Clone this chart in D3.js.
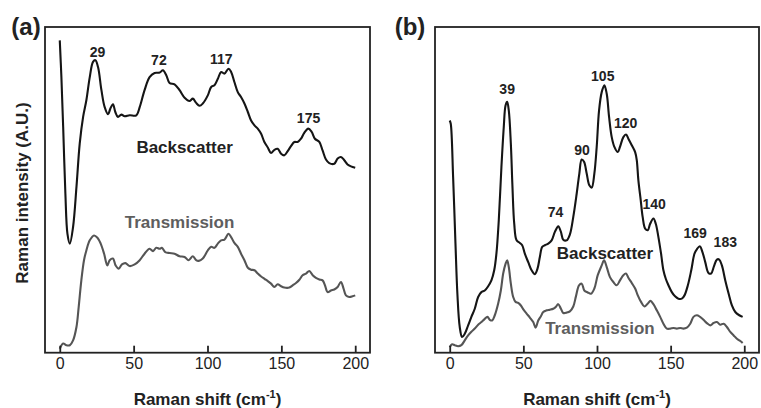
<!DOCTYPE html>
<html>
<head>
<meta charset="utf-8">
<script src="https://cdn.jsdelivr.net/npm/d3@7"></script>
<style>
  html, body { margin: 0; padding: 0; background: #fff; }
  svg { display: block; font-family: "Liberation Sans", Arial, sans-serif; }
</style>
</head>
<body>
<svg id="chart" width="761" height="408"></svg>
<script>
// ---------------- DATA (Raman shift in cm^-1, intensity in arbitrary units 0-100) ----------------
const xTicks = [0, 50, 100, 150, 200];

// Panel (a)
const backscatterA = [
  [0,95.9],[1.1,84.6],[2.3,69.3],[3.8,48.8],[5.2,36.5],[6.8,33.5],[9.0,38.6],[11.3,50.9],[13.5,64.2],
  [15.8,72.4],[18.0,77.5],[20.3,84.6],[22.5,89.3],[24.1,89.8],[25.9,87.7],[28.2,80.6],[30.4,75.4],
  [32.7,73.2],[34.2,74.9],[36.0,76.3],[37.6,73.9],[39.4,72.4],[41.7,73.1],[43.9,72.6],[47.3,72.9],
  [51.8,72.9],[54.1,75.4],[57.4,80.6],[60.8,84.6],[64.2,85.9],[67.6,86.0],[69.8,86.7],[72.1,85.2],
  [74.3,82.8],[77.7,82.4],[81.1,80.6],[84.5,78.3],[87.8,77.3],[90.1,78.0],[92.3,76.7],[94.6,75.8],
  [96.8,76.5],[100.2,79.0],[102.5,81.6],[104.7,82.1],[107.0,84.1],[109.2,86.2],[111.5,85.7],
  [114.2,87.2],[116.0,86.2],[118.2,83.1],[120.5,80.0],[122.7,78.5],[125.0,76.5],[127.3,73.9],
  [129.5,71.3],[131.8,69.8],[134.0,68.8],[136.3,67.2],[138.5,64.7],[140.8,63.0],[143.0,61.3],
  [145.3,62.3],[147.5,62.6],[149.8,61.1],[152.0,60.6],[154.3,61.9],[156.5,63.4],[158.8,64.7],
  [161.0,64.7],[163.3,65.7],[165.5,67.5],[168.2,68.8],[170.5,67.8],[172.7,65.7],[175.7,64.7],
  [177.9,62.1],[180.2,59.3],[182.4,58.2],[185.8,58.0],[188.1,59.6],[190.3,60.1],[192.6,59.1],
  [194.8,57.8],[197.1,57.2],[200.0,56.8]
];
const transmissionA = [
  [0,1.2],[2.3,2.8],[4.5,2.3],[6.8,2.3],[9.0,3.8],[11.3,7.9],[12.8,14.0],[14.6,22.2],[16.4,28.4],
  [18.0,31.4],[20.3,34.5],[23.2,36.0],[25.5,35.3],[27.7,33.5],[30.0,30.4],[32.2,26.8],[33.8,28.4],
  [36.0,28.9],[37.8,26.8],[39.9,25.8],[42.1,27.1],[44.4,27.5],[47.3,26.6],[50.7,27.1],[54.1,28.4],
  [57.4,30.4],[60.8,31.9],[63.1,31.2],[65.3,32.2],[67.6,31.9],[69.1,32.2],[71.4,30.9],[74.3,30.6],
  [77.7,30.4],[81.1,29.6],[84.5,29.4],[87.2,28.4],[90.1,29.6],[92.3,28.4],[94.1,28.2],[96.8,28.9],
  [100.2,31.4],[102.5,32.5],[104.7,32.2],[107.0,33.5],[109.2,34.5],[111.5,34.7],[114.2,36.5],
  [116.0,35.5],[118.2,33.7],[120.5,32.5],[122.7,30.4],[125.0,28.4],[127.3,26.1],[129.5,25.5],
  [131.8,25.3],[134.0,24.3],[136.3,23.4],[138.5,22.7],[140.8,22.0],[143.0,21.2],[145.3,20.2],
  [147.5,21.0],[149.8,20.4],[152.0,20.0],[155.4,20.0],[157.7,20.7],[159.9,21.4],[162.2,22.4],
  [164.4,23.8],[166.7,24.3],[168.9,25.1],[171.2,23.8],[173.4,23.0],[175.7,22.5],[177.9,22.2],
  [179.5,20.7],[181.3,18.6],[183.6,19.1],[185.8,19.4],[188.1,20.2],[190.3,21.7],[192.1,19.7],
  [193.7,17.6],[195.9,17.1],[198.2,17.3],[200.0,17.6]
];

// Panel (b)
const backscatterB = [
  [0,71.3],[0.7,70.3],[2.3,53.9],[3.9,33.5],[5.2,18.1],[6.8,7.9],[8.4,4.8],[10.2,5.8],[12.5,8.4],
  [14.7,11.0],[17.0,13.5],[19.3,17.1],[21.5,18.6],[23.8,19.1],[26.1,20.4],[28.3,22.2],[30.2,25.3],
  [31.7,30.4],[33.3,40.6],[35.1,57.0],[36.7,69.3],[37.9,75.9],[39.0,77.0],[40.1,74.4],[41.5,64.2],
  [42.6,50.9],[43.8,39.6],[45.4,34.5],[47.6,33.7],[49.2,33.0],[51.0,30.4],[53.3,27.8],[55.6,25.3],
  [57.8,24.1],[59.6,25.8],[61.2,29.4],[62.8,32.5],[64.6,33.0],[66.9,33.5],[69.2,34.5],[71.4,37.1],
  [73.7,38.8],[75.5,37.1],[77.1,34.7],[79.4,34.5],[81.6,36.3],[83.9,41.7],[86.2,48.8],[88.0,55.0],
  [89.6,59.3],[91.2,58.6],[93.0,55.0],[94.8,51.4],[96.4,50.7],[98.2,55.0],[99.8,63.2],[101.4,74.4],
  [103.2,80.0],[105.0,82.1],[106.6,79.5],[108.2,72.4],[110.0,66.2],[111.8,63.2],[114.1,61.6],
  [115.6,63.2],[117.9,66.2],[119.7,67.0],[121.3,65.7],[123.6,63.7],[125.9,61.6],[127.0,59.1],
  [128.1,52.9],[129.7,46.8],[131.0,41.7],[132.7,38.1],[134.5,37.6],[136.1,39.6],[138.3,41.2],
  [139.9,39.6],[141.7,35.5],[143.5,30.4],[145.1,25.3],[146.7,22.7],[148.5,20.7],[150.8,18.6],
  [153.0,17.3],[155.3,16.6],[157.6,16.6],[159.4,17.6],[161.7,20.7],[164.0,25.3],[166.2,30.4],
  [168.0,31.9],[169.8,32.7],[171.6,30.9],[173.5,27.8],[175.7,24.5],[177.5,24.3],[179.4,26.5],
  [181.4,28.6],[183.0,28.6],[184.8,26.8],[187.1,22.2],[189.4,18.1],[191.6,14.5],[193.9,12.5],
  [196.6,11.5],[198.9,11.0]
];
const transmissionB = [
  [0,1.7],[1.6,2.6],[3.4,2.3],[5.7,2.0],[7.9,2.3],[10.2,3.8],[12.5,5.3],[14.7,6.4],[17.0,7.4],
  [19.3,8.6],[21.5,9.4],[23.8,10.4],[25.6,11.0],[27.2,10.1],[28.8,9.9],[30.6,11.5],[32.9,15.1],
  [34.7,19.1],[36.3,24.3],[37.9,27.3],[39.0,28.4],[40.1,26.3],[41.5,21.2],[43.1,17.1],[44.7,15.6],
  [46.5,15.3],[48.3,14.5],[50.1,13.2],[52.2,12.0],[54.4,10.8],[56.7,9.4],[58.3,7.7],[60.1,9.9],
  [61.9,11.2],[63.5,12.5],[65.8,13.0],[68.0,13.2],[70.3,13.5],[71.9,14.0],[73.7,14.9],[75.5,13.5],
  [77.1,12.2],[79.4,12.3],[81.6,12.7],[83.9,14.2],[85.7,17.3],[87.8,20.7],[89.6,21.2],[91.4,19.1],
  [93.7,18.5],[95.9,18.1],[98.2,19.7],[100.5,23.8],[103.2,26.8],[104.8,28.4],[106.6,26.3],
  [108.8,23.2],[111.1,21.7],[113.4,20.7],[115.6,22.2],[117.9,23.8],[119.7,24.3],[121.3,23.0],
  [123.6,21.4],[125.9,19.7],[127.7,17.6],[129.9,15.6],[132.2,14.2],[134.5,15.1],[136.3,15.9],
  [138.3,14.9],[140.6,13.0],[142.9,11.0],[145.1,8.9],[147.4,7.4],[149.7,7.4],[151.9,7.6],
  [154.2,7.4],[156.5,7.6],[158.7,7.4],[161.0,7.7],[163.3,8.9],[165.5,11.0],[167.8,11.5],
  [170.0,11.0],[172.3,10.1],[174.6,9.1],[176.9,8.4],[179.1,9.1],[181.4,9.4],[183.7,8.6],
  [186.0,8.9],[188.2,7.9],[190.5,6.4],[192.8,5.3],[195.0,4.3],[197.3,3.6],[198.9,3.0]
];

// Peak annotations: [label, shift position, intensity position]
const peaksA = [["29", 25.5, 90.9], ["72", 67.1, 88.3], ["117", 109.3, 88.5], ["175", 168.4, 70.4]];
const peaksB = [["39", 39, 79.3], ["74", 71.9, 41.8], ["90", 89.8, 60.7], ["105", 103.9, 83.4],
                ["120", 119.5, 68.9], ["140", 138.8, 44.1], ["169", 166.7, 35.3], ["183", 187.1, 32.4]];

// Series labels: [text, shift, intensity, kind]
const seriesLabelsA = [["Backscatter", 84.5, 61.4, "back"], ["Transmission", 81.1, 38.4, "trans"]];
const seriesLabelsB = [["Backscatter", 105.4, 28.9, "back"], ["Transmission", 102, 5.8, "trans"]];

// ---------------- DRAWING ----------------
const svg = d3.select("#chart");
const plotTop = 27, plotBottom = 352.7;
const colors = { back: "#151515", trans: "#555555", transText: "#5e5e5e" };

function panel(cfg) {
  const x = d3.scaleLinear().domain([-10, 210]).range([cfg.left, cfg.right]);
  const y = d3.scaleLinear().domain([0, 100]).range([plotBottom, plotTop]);
  const g = svg.append("g");

  const line = d3.line().x(d => x(d[0])).y(d => y(d[1])).curve(d3.curveCatmullRom.alpha(0.5));

  g.append("path").datum(cfg.trans).attr("d", line)
    .attr("fill", "none").attr("stroke", colors.trans).attr("stroke-width", 2.1)
    .attr("stroke-linejoin", "round");
  g.append("path").datum(cfg.back).attr("d", line)
    .attr("fill", "none").attr("stroke", colors.back).attr("stroke-width", 2.1)
    .attr("stroke-linejoin", "round");

  // frame
  g.append("rect").attr("x", cfg.left).attr("y", plotTop)
    .attr("width", cfg.right - cfg.left).attr("height", plotBottom - plotTop)
    .attr("fill", "none").attr("stroke", "#222").attr("stroke-width", 1.8);

  // x axis (inward ticks)
  const ax = g.append("g").attr("transform", `translate(0,${plotBottom})`)
    .call(d3.axisBottom(x).tickValues(xTicks).tickSizeInner(-7).tickSizeOuter(0).tickPadding(5));
  ax.select(".domain").remove();
  ax.selectAll(".tick line").attr("stroke", "#222").attr("stroke-width", 1.8);
  ax.selectAll(".tick text").attr("font-size", 16).attr("fill", "#222")
    .attr("font-family", "'Liberation Sans', Arial, sans-serif");

  // x title
  const xt = g.append("text").attr("x", (x(0) + x(200)) / 2).attr("y", 405)
    .attr("text-anchor", "middle").attr("font-size", 17).attr("font-weight", "bold").attr("fill", "#222");
  xt.append("tspan").text("Raman shift (cm");
  xt.append("tspan").text("-1").attr("font-size", 11).attr("dy", -7);
  xt.append("tspan").text(")").attr("dy", 7);

  // panel letter
  g.append("text").attr("x", cfg.letterX).attr("y", 35).attr("text-anchor", "middle")
    .attr("font-size", 24).attr("font-weight", "bold").attr("fill", "#222").text(cfg.letter);

  // peak labels
  g.selectAll(".peak").data(cfg.peaks).join("text")
    .attr("x", d => x(d[1])).attr("y", d => y(d[2]))
    .attr("text-anchor", "middle").attr("font-size", 14).attr("font-weight", "bold").attr("fill", "#222")
    .text(d => d[0]);

  // series labels
  g.selectAll(".slabel").data(cfg.labels).join("text")
    .attr("x", d => x(d[1])).attr("y", d => y(d[2]))
    .attr("text-anchor", "middle").attr("font-size", 17).attr("font-weight", "bold")
    .attr("fill", d => d[3] === "back" ? "#222" : colors.transText)
    .text(d => d[0]);
}

panel({ left: 45, right: 370, back: backscatterA, trans: transmissionA,
        peaks: peaksA, labels: seriesLabelsA, letter: "(a)", letterX: 26 });
panel({ left: 435, right: 759, back: backscatterB, trans: transmissionB,
        peaks: peaksB, labels: seriesLabelsB, letter: "(b)", letterX: 410 });

// y-axis title (panel a only)
svg.append("text").attr("transform", "translate(28,193) rotate(-90)")
  .attr("text-anchor", "middle").attr("font-size", 17).attr("font-weight", "bold").attr("fill", "#222")
  .text("Raman intensity (A.U.)");
</script>
</body>
</html>
